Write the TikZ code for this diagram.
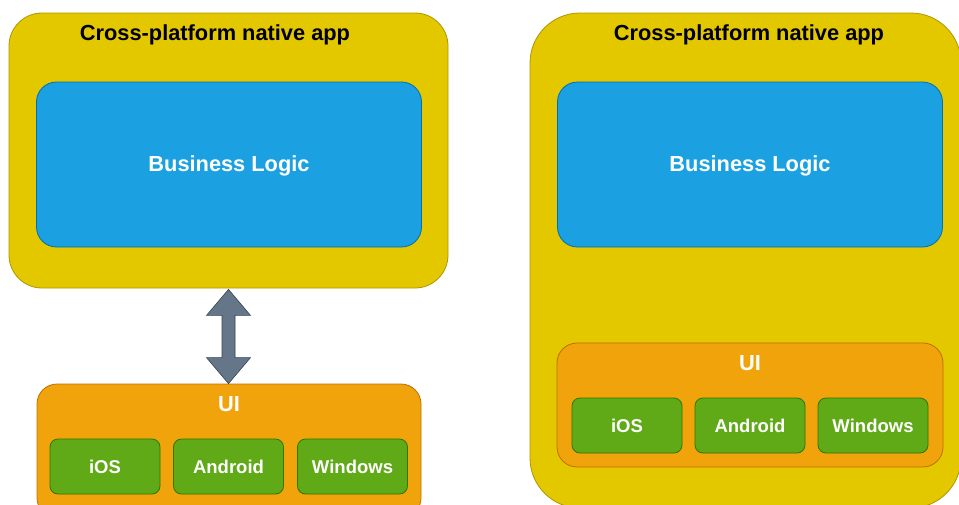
\documentclass[tikz,border=0pt]{standalone}
\usepackage{fontspec}
\setmainfont{Liberation Sans}
\usetikzlibrary{calc}

\definecolor{yfill}{HTML}{E3C800}
\definecolor{ydraw}{HTML}{B09500}
\definecolor{bfill}{HTML}{1BA1E2}
\definecolor{bdraw}{HTML}{006EAF}
\definecolor{ofill}{HTML}{F0A30A}
\definecolor{odraw}{HTML}{BD7000}
\definecolor{gfill}{HTML}{60A917}
\definecolor{gdraw}{HTML}{2D7600}
\definecolor{afill}{HTML}{647687}
\definecolor{adraw}{HTML}{314354}

\tikzset{
  box/.style={rectangle, inner sep=0pt, line width=0.8pt},
  appbox/.style={box, fill=yfill, draw=ydraw},
  logicbox/.style={box, fill=bfill, draw=bdraw, rounded corners=20pt,
    minimum width=385pt, minimum height=165pt},
  uibox/.style={box, fill=ofill, draw=odraw, rounded corners=20pt},
  osbox/.style={box, fill=gfill, draw=gdraw, rounded corners=8pt,
    minimum width=110pt, minimum height=55pt, text=white,
    font=\fontsize{18.5}{22}\selectfont\bfseries},
  titletext/.style={font=\fontsize{21.8}{26}\selectfont\bfseries, text=black, inner sep=0pt},
  whitetext/.style={font=\fontsize{21.8}{26}\selectfont\bfseries, text=white, inner sep=0pt},
  biarrow/.style={fill=afill, draw=adraw, line width=0.6pt, line join=miter}
}

\begin{document}
\begin{tikzpicture}[x=1pt, y=-1pt]
\useasboundingbox (0,0) rectangle (959,504);
\clip (0,0) rectangle (959,504);

% ---- left: business logic app and separate UI layer ----
\node[appbox, rounded corners=33pt, minimum width=439pt, minimum height=275pt] (appL) at (228.5,150.5) {};
\node[titletext] (titleL) at (215,35) {Cross-platform native app};
\node[logicbox] (logicL) at (229,164.5) {};
\node[whitetext] (logicLtext) at (229,165.5) {Business Logic};

\node[uibox, minimum width=384pt, minimum height=134pt] (uiL) at (229,451) {};
\node[whitetext] (uiLtext) at (229,404) {UI};
\node[osbox] (iosL) at (105,466.5) {iOS};
\node[osbox] (androidL) at (228.5,466.5) {Android};
\node[osbox] (windowsL) at (352.5,466.5) {Windows};

% double-headed block arrow between the app and the UI layer
\coordinate (aTop) at (appL.south);
\coordinate (aBot) at (aTop |- uiL.north);
\draw[biarrow]
  ($(aTop)+(0,1)$) -- ($(aTop)+(22,27)$) -- ($(aTop)+(6.5,27)$)
  -- ($(aBot)+(6.5,-26)$) -- ($(aBot)+(22,-26)$) -- (aBot)
  -- ($(aBot)+(-22,-26)$) -- ($(aBot)+(-6.5,-26)$)
  -- ($(aTop)+(-6.5,27)$) -- ($(aTop)+(-22,27)$) -- cycle;

% ---- right: UI layer inside the app ----
\node[appbox, rounded corners=50pt, minimum width=431pt, minimum height=495pt] (appR) at (745.5,260.5) {};
\node[titletext] (titleR) at (749,35) {Cross-platform native app};
\node[logicbox] (logicR) at (750,164.5) {};
\node[whitetext] (logicRtext) at (750,165.5) {Business Logic};

\node[uibox, minimum width=386pt, minimum height=124pt] (uiR) at (750,405) {};
\node[whitetext] (uiRtext) at (750,363) {UI};
\node[osbox] (iosR) at (627,425.5) {iOS};
\node[osbox] (androidR) at (750,425.5) {Android};
\node[osbox] (windowsR) at (873,425.5) {Windows};
\end{tikzpicture}
\end{document}
